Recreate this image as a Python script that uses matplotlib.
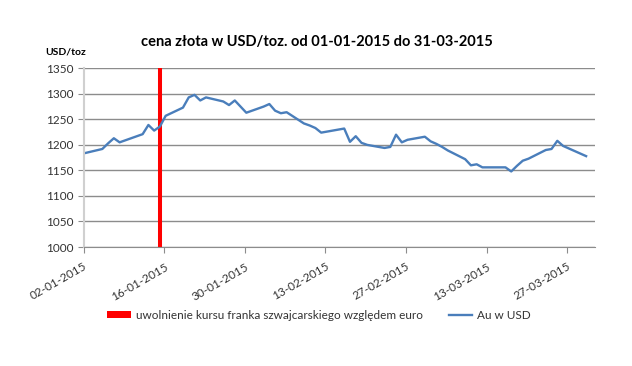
import matplotlib
matplotlib.use("Agg")
import matplotlib.pyplot as plt
from matplotlib.lines import Line2D
from matplotlib.patches import Patch
import pandas as pd

# gold price (USD/oz), trading days Jan-Mar 2015
dates = [
    "2015-01-02", "2015-01-05", "2015-01-06", "2015-01-07", "2015-01-08", "2015-01-09",
    "2015-01-12", "2015-01-13", "2015-01-14", "2015-01-15", "2015-01-16",
    "2015-01-19", "2015-01-20", "2015-01-21", "2015-01-22", "2015-01-23",
    "2015-01-26", "2015-01-27", "2015-01-28", "2015-01-29", "2015-01-30",
    "2015-02-02", "2015-02-03", "2015-02-04", "2015-02-05", "2015-02-06",
    "2015-02-09", "2015-02-10", "2015-02-11", "2015-02-12", "2015-02-13",
    "2015-02-16", "2015-02-17", "2015-02-18", "2015-02-19", "2015-02-20",
    "2015-02-23", "2015-02-24", "2015-02-25", "2015-02-26", "2015-02-27",
    "2015-03-02", "2015-03-03", "2015-03-04", "2015-03-05", "2015-03-06",
    "2015-03-09", "2015-03-10", "2015-03-11", "2015-03-12", "2015-03-13",
    "2015-03-16", "2015-03-17", "2015-03-18", "2015-03-19", "2015-03-20",
    "2015-03-23", "2015-03-24", "2015-03-25", "2015-03-26", "2015-03-27",
    "2015-03-30",
]
gold_usd = [
    1184, 1192, 1203, 1213, 1205, 1209,
    1221, 1239, 1228, 1236, 1257,
    1273, 1293, 1298, 1287, 1293,
    1285, 1278, 1287, 1275, 1263,
    1275, 1280, 1267, 1262, 1264,
    1242, 1238, 1233, 1224, 1226,
    1232, 1206, 1217, 1204, 1200,
    1194, 1196, 1220, 1205, 1210,
    1216, 1207, 1202, 1196, 1189,
    1172, 1160, 1162, 1156, 1156,
    1156, 1148, 1159, 1169, 1173,
    1190, 1192, 1208, 1198, 1193,
    1178,
]
chf_event = "2015-01-15"
tick_dates = ["2015-01-02", "2015-01-16", "2015-01-30", "2015-02-13",
              "2015-02-27", "2015-03-13", "2015-03-27"]

start = pd.Timestamp("2015-01-02")
def day(d):
    return (pd.Timestamp(d) - start).days

x = [day(d) + 0.25 for d in dates]

plt.rcParams['font.family'] = ['Lato', 'DejaVu Sans']

fig = plt.figure(figsize=(6.32, 3.66), dpi=100)
ax = fig.add_axes([0.1323, 0.3251, 0.8092, 0.4883])

ax.set_ylim(1000, 1350)
ax.set_yticks(range(1000, 1351, 50))
ax.set_xlim(0, 88.8)
ax.grid(axis='y', color='#8c8c8c', lw=1)
ax.set_axisbelow(True)

ax.axvline(day(chf_event) + 0.25, color='#ff0000', lw=2.9)
ax.plot(x, gold_usd, color='#4a7ebb', lw=1.7)

ax.set_xticks([day(d) for d in tick_dates])
ax.set_xticklabels([pd.Timestamp(d).strftime('%d-%m-%Y') for d in tick_dates],
                   rotation=30, ha='right', va='top', rotation_mode='anchor')
ax.tick_params(axis='x', length=4, color='#8c8c8c', labelsize=8.5, pad=6,
               labelcolor='#333333')
ax.tick_params(axis='y', length=4, color='#8c8c8c', labelsize=8.5,
               labelcolor='#333333')

for s in ['top', 'right']:
    ax.spines[s].set_visible(False)
ax.spines['bottom'].set_color('#8c8c8c')
ax.spines['left'].set_color('#d0d0d0')
ax.spines['left'].set_linewidth(1.5)

fig.text(0.502, 0.885, "cena złota w USD/toz. od 01-01-2015 do 31-03-2015",
         ha='center', va='center', fontsize=10.5, fontweight='bold')
fig.text(0.104, 0.858, "USD/toz", ha='center', va='center',
         fontsize=7.5, fontweight='bold')

handles = [Patch(facecolor='#ff0000', edgecolor='none'),
           Line2D([], [], color='#4a7ebb', lw=1.7)]
labels = ["uwolnienie kursu franka szwajcarskiego względem euro", "Au w USD"]
fig.legend(handles, labels, loc='center', bbox_to_anchor=(0.505, 0.139), ncol=2,
           frameon=False, fontsize=8.5, handlelength=2.0, handleheight=0.45,
           columnspacing=2.2, handletextpad=0.4, labelcolor='#333333')

fig.savefig("out.png", dpi=100)
